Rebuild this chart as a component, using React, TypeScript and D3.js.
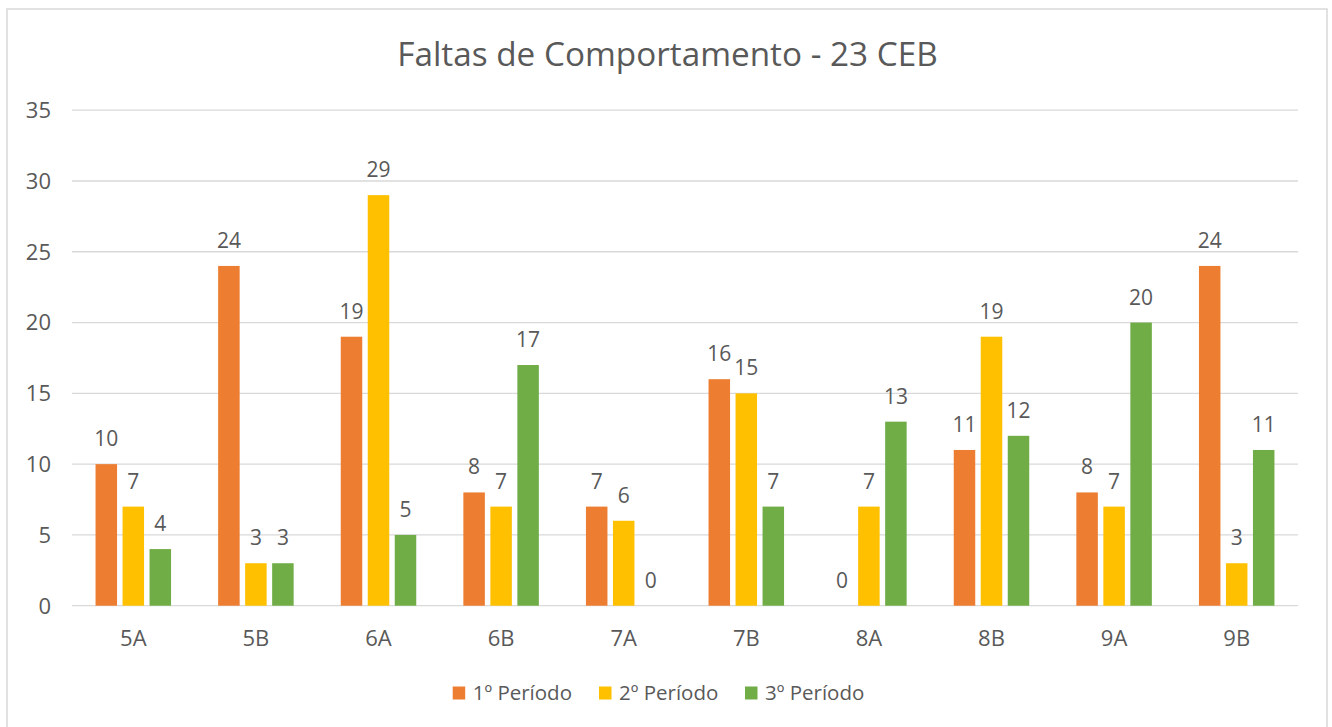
import React from "react";
import * as d3 from "d3";

const categories = ["5A", "5B", "6A", "6B", "7A", "7B", "8A", "8B", "9A", "9B"];
const seriesNames = ["1º Período", "2º Período", "3º Período"];
const periodo1 = [10, 24, 19, 8, 7, 16, 0, 11, 8, 24];
const periodo2 = [7, 3, 29, 7, 6, 15, 7, 19, 7, 3];
const periodo3 = [4, 3, 5, 17, 0, 7, 13, 12, 20, 11];
const yTicks = [0, 5, 10, 15, 20, 25, 30, 35];
const colors = ["#ED7D31", "#FFC000", "#70AD47"];
const title = "Faltas de Comportamento - 23 CEB";

const W = 1332;
const H = 727;
const FONT = "'Open Sans', 'Noto Sans', sans-serif";
const TXT = "#595959";

export default function App() {
  const series = [periodo1, periodo2, periodo3];
  const left = 72, right = 1298, top = 110.2, bottom = 605.7;
  const x = d3.scaleBand().domain(categories).range([left, right]).paddingInner(0).paddingOuter(0);
  const y = d3.scaleLinear().domain([0, 35]).range([bottom, top]);
  const slot = 27;
  const barW = 21.5;
  const xs = d3.scaleBand().domain(seriesNames).range([0, slot * 3]);

  const legendX = [452.7, 599, 745];

  return (
    <svg width={W} height={H} style={{ position: "absolute", left: 0, top: 0, background: "#fff" }} fontFamily={FONT}>
      <rect x={0} y={0} width={W} height={H} fill="#fff" />
      <rect x={7} y={9} width={1320} height={725} fill="#fff" stroke="#D9D9D9" strokeWidth={1.5} />
      <text x={667.5} y={66} textAnchor="middle" fontSize={33.3} fill={TXT}>{title}</text>
      {yTicks.map((t) => (
        <g key={t}>
          <line x1={left} x2={right} y1={y(t)} y2={y(t)} stroke="#D9D9D9" strokeWidth={1.3} />
          <text x={51} y={y(t)} dy="0.36em" textAnchor="end" fontSize={22} fill={TXT}>{t}</text>
        </g>
      ))}
      {categories.map((c, i) => {
        const cx = (x(c) as number) + x.bandwidth() / 2;
        const g0 = cx - (slot * 3) / 2;
        return (
          <g key={c}>
            {series.map((s, si) => {
              const sx = g0 + (xs(seriesNames[si]) as number) + slot / 2;
              const v = s[i];
              return (
                <g key={si}>
                  {v > 0 && (
                    <rect x={sx - barW / 2} y={y(v)} width={barW} height={bottom - y(v)} fill={colors[si]} />
                  )}
                  <text x={sx} y={y(v) - 18} textAnchor="middle" fontSize={21} fill={TXT}>{v}</text>
                </g>
              );
            })}
            <text x={cx} y={646} textAnchor="middle" fontSize={22} fill={TXT}>{c}</text>
          </g>
        );
      })}
      {seriesNames.map((n, i) => (
        <g key={n}>
          <rect x={legendX[i]} y={686.5} width={12.5} height={13} fill={colors[i]} />
          <text x={legendX[i] + 20} y={700} fontSize={20.5} fill={TXT}>{n}</text>
        </g>
      ))}
    </svg>
  );
}
